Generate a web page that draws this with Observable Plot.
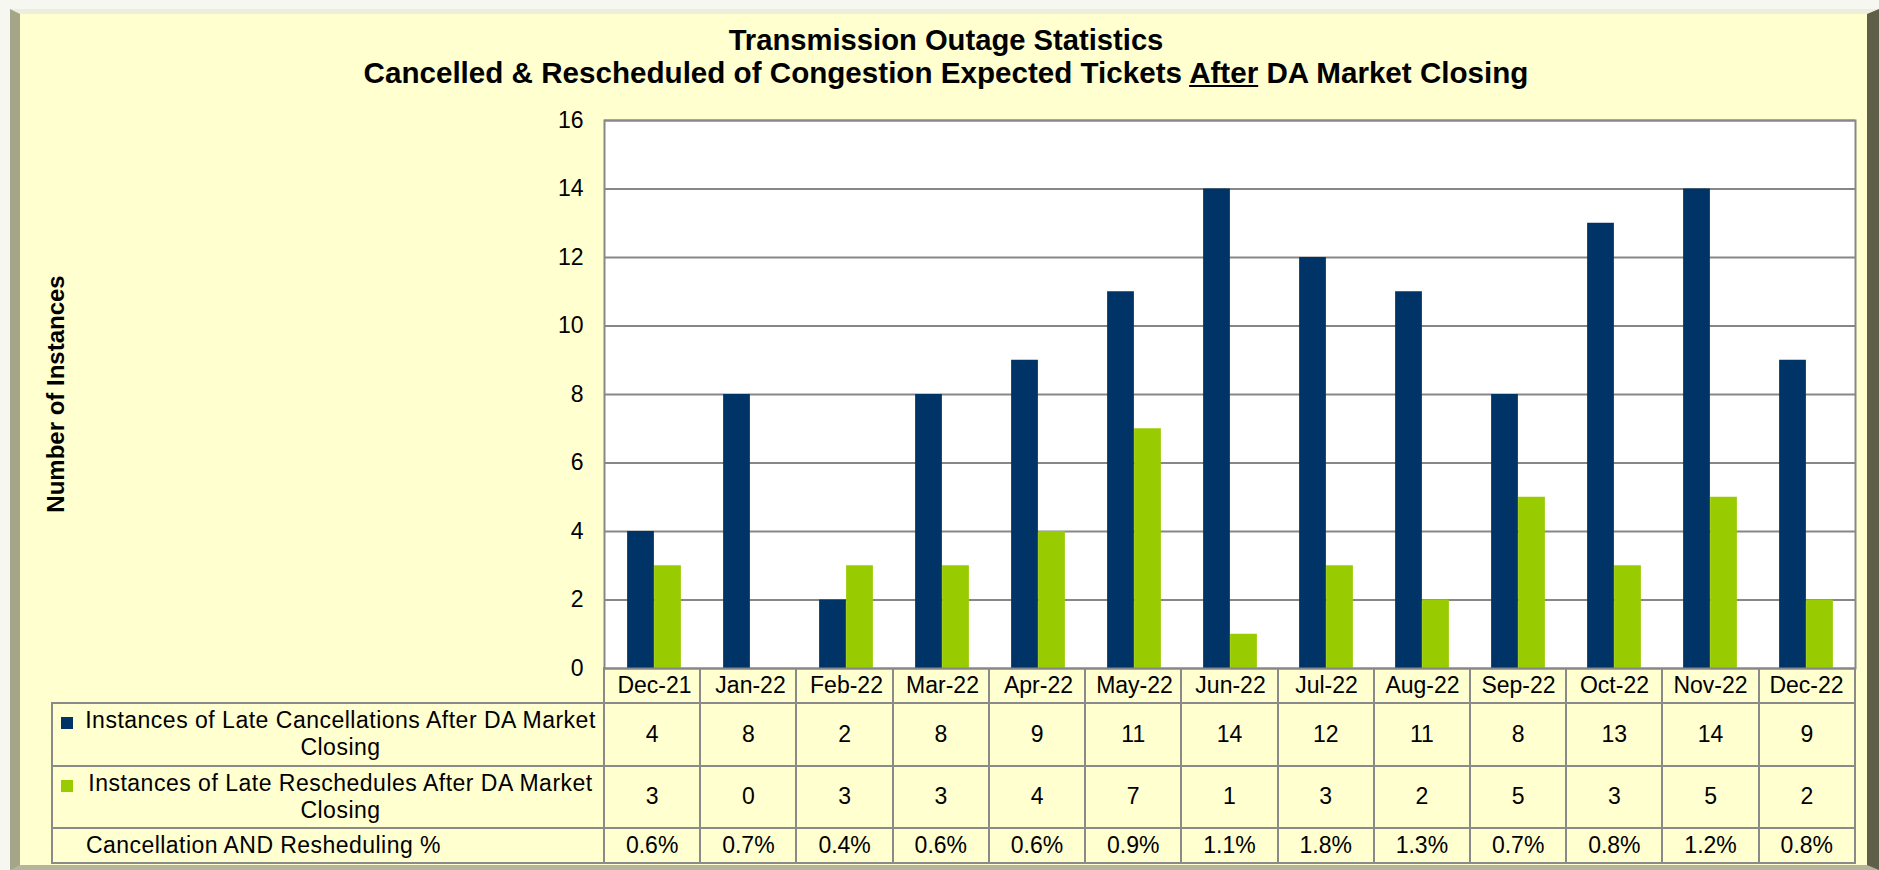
<!DOCTYPE html>
<html>
<head>
<meta charset="utf-8">
<script src="https://cdn.jsdelivr.net/npm/d3@7"></script>
<script src="https://cdn.jsdelivr.net/npm/@observablehq/plot@0.6"></script>
<style>
  html, body { margin: 0; padding: 0; background: #f7f7f2; overflow: hidden; }
  #page { position: relative; width: 1879px; height: 870px; font-family: "Liberation Sans", Arial, sans-serif; color: #000; }
  #frame { position: absolute; left: 10px; top: 9px; width: 1869px; height: 861px; box-sizing: border-box;
           background: #FFFFD0; border-left: 10px solid #A5A58A; border-top: 5px solid #EEEEDC;
           border-right: 12px solid #5E5E49; border-bottom: 5px solid #B5B59C; }
  #title { position: absolute; left: 0; top: 26.3px; width: 1892px; text-align: center; font-weight: bold;
           line-height: 28px; }
  #title .l1 { font-size: 29.2px; }
  #title .l2 { font-size: 29.6px; }
  #ytitle { position: absolute; left: 56px; top: 394px; transform: translate(-50%, -50%) rotate(-90deg);
            font-weight: bold; font-size: 24px; white-space: nowrap; }
  #tbl { position: absolute; left: 51px; top: 667px; border-collapse: collapse; table-layout: fixed; width: 1805px;
         font-size: 23px; }
  #tbl td { border: 2px solid #8a8a8a; padding: 0; text-align: center; vertical-align: middle; }
  #tbl td.blank { border: none; }
  #tbl td.lab { text-align: left; position: relative; }
  .key { position: absolute; left: 8px; width: 12px; height: 12px; }
  .labtext { margin-left: 30px; width: 515px; text-align: center; line-height: 27px; letter-spacing: 0.5px; white-space: nowrap; }
  .pcttext { margin-left: 33px; letter-spacing: 0.45px; white-space: nowrap; }
  #chart { position: absolute; left: 0; top: 0; pointer-events: none; }
</style>
</head>
<body>
<div id="page">
  <div id="frame"></div>
  <div id="title"></div>
  <div id="ytitle"></div>
  <table id="tbl"></table>
  <div id="chart"></div>
</div>
<script>
// ---- data ----
const months = ["Dec-21","Jan-22","Feb-22","Mar-22","Apr-22","May-22","Jun-22","Jul-22","Aug-22","Sep-22","Oct-22","Nov-22","Dec-22"];
const cancellations = [4, 8, 2, 8, 9, 11, 14, 12, 11, 8, 13, 14, 9];
const reschedules = [3, 0, 3, 3, 4, 7, 1, 3, 2, 5, 3, 5, 2];
const percentages = ["0.6%","0.7%","0.4%","0.6%","0.6%","0.9%","1.1%","1.8%","1.3%","0.7%","0.8%","1.2%","0.8%"];
const seriesNames = ["Instances of Late Cancellations After DA Market Closing", "Instances of Late Reschedules After DA Market Closing"];
const seriesColors = ["#003366", "#99CC00"];
const pctLabel = "Cancellation AND Resheduling %";
const yTicks = [0, 2, 4, 6, 8, 10, 12, 14, 16];
const titleLine1 = "Transmission Outage Statistics";
const titleLine2 = ["Cancelled & Rescheduled of Congestion Expected Tickets ", "After", " DA Market Closing"];
const yTitle = "Number of Instances";

// ---- titles ----
const esc = s => s.replace(/&/g, "&amp;").replace(/</g, "&lt;");
document.getElementById("title").innerHTML =
  "<span class='l1'>" + esc(titleLine1) + "</span><br><span class='l2'>" + esc(titleLine2[0]) + "<u>" + esc(titleLine2[1]) + "</u>" + esc(titleLine2[2]) + "</span>";
document.getElementById("ytitle").textContent = yTitle;

// ---- chart ----
const rows = months.map((m, i) => ({month: m, c: cancellations[i], r: reschedules[i]}));
const W = 1879, plotLeft = 604, plotRight = 1855;
const bw = (plotRight - plotLeft) / months.length;
const barW = 27, off = (bw - 2 * barW) / 2;

const chart = Plot.plot({
  width: W,
  height: 705,
  marginLeft: plotLeft,
  marginRight: W - plotRight,
  marginTop: 120,
  marginBottom: 37,
  style: {background: "transparent", fontFamily: "'Liberation Sans', Arial, sans-serif", fontSize: "23px", color: "#000", overflow: "visible"},
  x: {domain: months, padding: 0, tickSize: 0, tickPadding: 8, label: null},
  y: {domain: [0, 16], ticks: yTicks, tickSize: 0, tickPadding: 21, label: null},
  marks: [
    Plot.frame({fill: "white"}),
    Plot.ruleY(yTicks, {stroke: "#878787", strokeWidth: 2}),
    Plot.barY(rows, {x: "month", y: "c", fill: seriesColors[0], insetLeft: off, insetRight: bw - off - barW}),
    Plot.barY(rows, {x: "month", y: "r", fill: seriesColors[1], insetLeft: off + barW, insetRight: off}),
    Plot.frame({stroke: "#878787", strokeWidth: 2})
  ]
});
document.getElementById("chart").appendChild(chart);

// ---- data table ----
function splitLast(s) { const k = s.lastIndexOf(" "); return esc(s.slice(0, k)) + "<br>" + esc(s.slice(k + 1)); }
let html = "<colgroup><col style='width:552px'>" + months.map(() => `<col style='width:${bw}px'>`).join("") + "</colgroup>";
html += "<tr style='height:35px'><td class='blank'></td>" + months.map(() => "<td></td>").join("") + "</tr>";
[cancellations, reschedules].forEach((vals, s) => {
  html += `<tr style='height:62.5px'><td class='lab'><span class='key' style='background:${seriesColors[s]};top:13px'></span><div class='labtext'>${splitLast(seriesNames[s])}</div></td>` +
    vals.map(v => `<td>${v}</td>`).join("") + "</tr>";
});
html += `<tr style='height:35px'><td class='lab'><div class='pcttext'>${esc(pctLabel)}</div></td>` +
  percentages.map(p => `<td>${p}</td>`).join("") + "</tr>";
document.getElementById("tbl").innerHTML = html;
</script>
</body>
</html>
